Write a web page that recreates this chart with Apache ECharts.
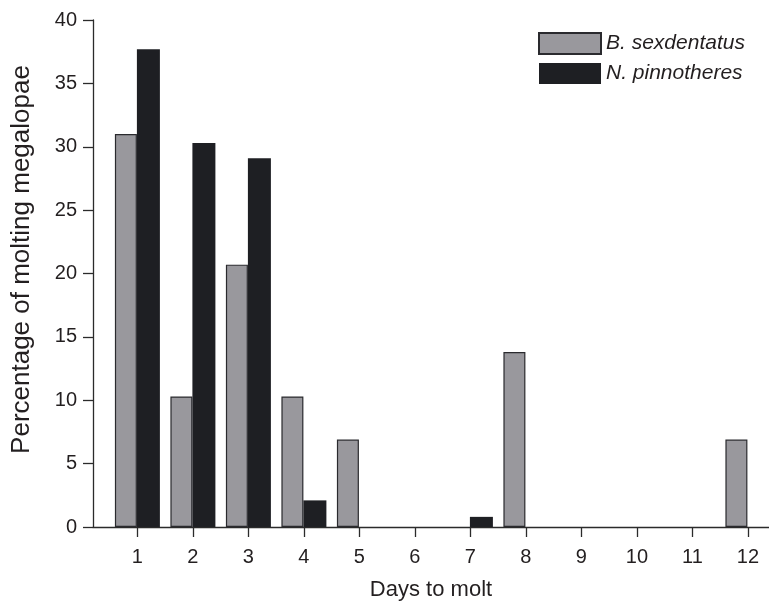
<!DOCTYPE html>
<html>
<head>
<meta charset="utf-8">
<script src="https://cdn.jsdelivr.net/npm/echarts@6/dist/echarts.min.js"></script>
<style>
html,body{margin:0;padding:0;background:#fff;}
#chart{width:769px;height:606px;}
</style>
</head>
<body>
<div id="chart"></div>
<script>
// Data
const days = [1, 2, 3, 4, 5, 6, 7, 8, 9, 10, 11, 12];
const seriesNames = ['B. sexdentatus', 'N. pinnotheres'];
const bSexdentatus = [31.0, 10.3, 20.7, 10.3, 6.9, 0, 0, 13.8, 0, 0, 0, 6.9];
const nPinnotheres = [37.7, 30.3, 29.1, 2.1, 0, 0, 0.8, 0, 0, 0, 0, 0];
const yTicks = [0, 5, 10, 15, 20, 25, 30, 35, 40];

const FONT = '"Liberation Sans", Arial, Helvetica, sans-serif';
const TXT = '#231f20';
const AX = '#2b2b2b';

function pairs(vals) {
  const out = [];
  days.forEach((d, i) => { if (vals[i] > 0) out.push([d, vals[i]]); });
  return out;
}

const chart = echarts.init(document.getElementById('chart'), null, {renderer: 'canvas'});
chart.setOption({
  animation: false,
  backgroundColor: '#ffffff',
  grid: {left: 93, right: 0, top: 20, bottom: 79, containLabel: false},
  legend: {
    orient: 'vertical',
    left: 538, top: 32, padding: 0,
    itemWidth: 62, itemHeight: 21, itemGap: 8,
    icon: 'rect',
    textStyle: {fontFamily: FONT, fontSize: 21, fontStyle: 'italic', color: TXT, lineHeight: 21},
    data: seriesNames
  },
  xAxis: {
    type: 'value',
    min: 0.2, max: 12.38,
    name: 'Days to molt',
    nameLocation: 'middle',
    nameGap: 52,
    nameTextStyle: {fontFamily: FONT, fontSize: 22, color: TXT},
    axisLine: {show: true, lineStyle: {color: AX, width: 1.3}},
    axisTick: {show: true, length: 10, inside: false, customValues: days, lineStyle: {color: AX, width: 1.3}},
    axisLabel: {customValues: days, fontFamily: FONT, fontSize: 20, color: TXT, margin: 20},
    splitLine: {show: false}
  },
  yAxis: {
    type: 'value',
    min: yTicks[0], max: yTicks[yTicks.length - 1], interval: 5,
    name: 'Percentage of molting megalopae',
    nameLocation: 'middle',
    nameGap: 58,
    nameRotate: 90,
    nameTextStyle: {fontFamily: FONT, fontSize: 26, color: TXT, padding: [0, 0, 0, 28]},
    axisLine: {show: true, lineStyle: {color: AX, width: 1.3}},
    axisTick: {show: true, length: 10, inside: false, lineStyle: {color: AX, width: 1.3}},
    axisLabel: {fontFamily: FONT, fontSize: 20, color: TXT, margin: 16},
    splitLine: {show: false}
  },
  series: [
    {
      name: seriesNames[0], type: 'bar',
      data: pairs(bSexdentatus),
      barWidth: 22, barGap: '0%',
      itemStyle: {color: '#99989d', borderColor: '#2a2a2e', borderWidth: 1.2}
    },
    {
      name: seriesNames[1], type: 'bar',
      data: pairs(nPinnotheres),
      barWidth: 23, barGap: '0%',
      itemStyle: {color: '#1e1f23', borderColor: '#1e1f23', borderWidth: 0}
    }
  ]
});
</script>
</body>
</html>
